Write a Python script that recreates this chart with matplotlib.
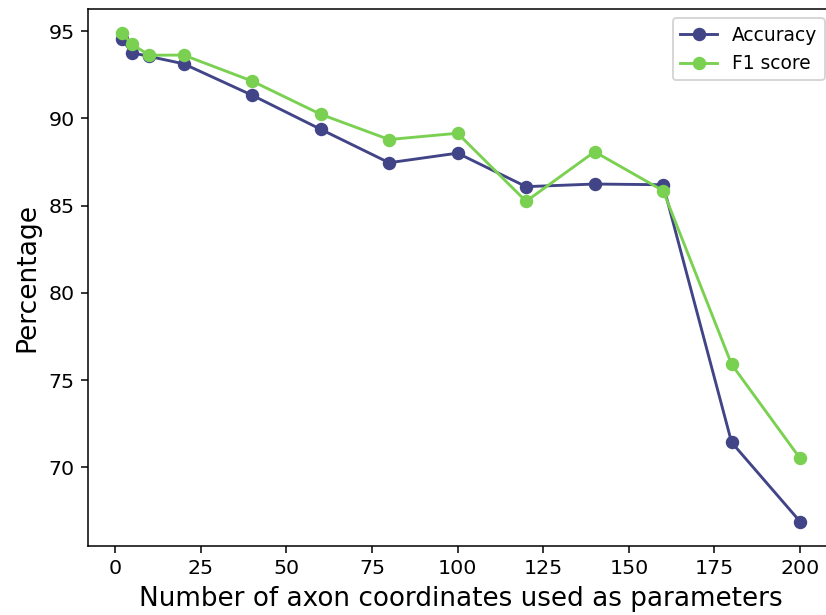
import numpy as np
import matplotlib
matplotlib.use('Agg')
import matplotlib.pyplot as plt

# number of axon coordinates used as parameters
n_coords = [2, 5, 10, 20, 40, 60, 80, 100, 120, 140, 160, 180, 200]

accuracy = [94.53, 93.76, 93.55, 93.13, 91.33, 89.38, 87.46, 88.01,
            86.09, 86.24, 86.20, 71.44, 66.90]
f1_score = [94.87, 94.24, 93.62, 93.63, 92.14, 90.24, 88.79, 89.15,
            85.25, 88.09, 85.86, 75.91, 70.52]

acc_color = '#414487'
f1_color = '#7ad151'

dpi = 138
fig = plt.figure(figsize=(826 / dpi, 615 / dpi), dpi=dpi)
# axes run slightly past the right edge, as in the reference crop
ax = fig.add_axes([88 / 826, 1 - 546 / 615, (834 - 88) / 826, (546 - 9) / 615])

ax.plot(n_coords, accuracy, marker='o', color=acc_color, label='Accuracy')
ax.plot(n_coords, f1_score, marker='o', color=f1_color, label='F1 score')

ax.set_xticks([0, 25, 50, 75, 100, 125, 150, 175, 200])
ax.tick_params(labelsize=10.7)
ax.set_xlabel('Number of axon coordinates used as parameters', fontsize=13.7)
ax.set_ylabel('Percentage', fontsize=13.8)
ax.legend(loc='upper right', fontsize=9.7)

plt.savefig('out.png', dpi=dpi)
